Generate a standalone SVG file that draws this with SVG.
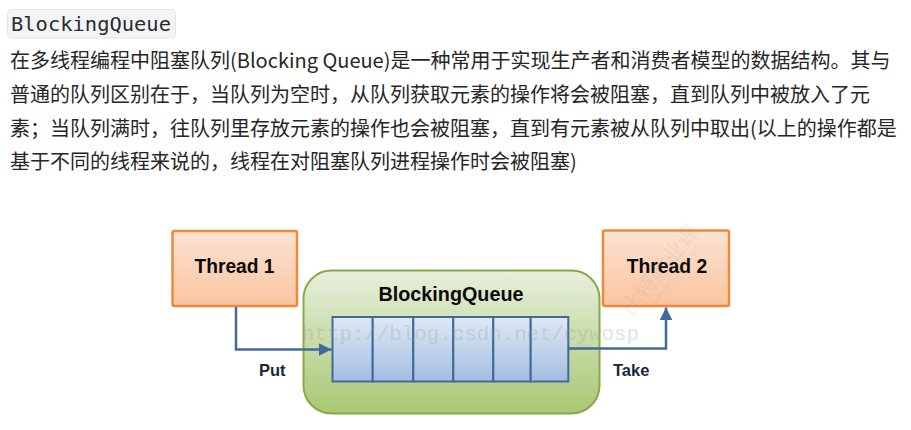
<svg xmlns="http://www.w3.org/2000/svg" width="911" height="430" viewBox="0 0 911 430">
  <style>
    .para { font-family: "Noto Sans CJK SC", "Noto Sans", sans-serif; font-size: 20px; fill: #262626; }
    .code { font-family: "DejaVu Sans Mono", "Liberation Mono", monospace; font-size: 19px; fill: #2b2b2b; }
    .title { font-family: "Liberation Sans", Arial, sans-serif; font-weight: bold; font-size: 19.4px; fill: #0a0a0a; text-anchor: middle; }
    .lbl { font-family: "Liberation Sans", Arial, sans-serif; font-weight: bold; font-size: 16.5px; fill: #1c2540; }
    .thread { fill: url(#gOrange); stroke: #f0883a; stroke-width: 2.5; }
    .cell { fill: url(#gBlue); stroke: #41699c; stroke-width: 2; }
    .conn { fill: none; stroke: #41699c; stroke-width: 2.5; }
    .wm { font-family: "Liberation Mono", monospace; fill: #9a9a9a; opacity: 0.28; }
  </style>
  <defs>
    <linearGradient id="gOrange" x1="0" y1="0" x2="0" y2="1">
      <stop offset="0" stop-color="#fde3d2"/>
      <stop offset="1" stop-color="#f9c49f"/>
    </linearGradient>
    <linearGradient id="gGreen" x1="0" y1="0" x2="0" y2="1">
      <stop offset="0" stop-color="#e7efdc"/>
      <stop offset="1" stop-color="#a8c872"/>
    </linearGradient>
    <linearGradient id="gBlue" x1="0" y1="0" x2="0" y2="1">
      <stop offset="0" stop-color="#dfe9f5"/>
      <stop offset="1" stop-color="#a3bde0"/>
    </linearGradient>
    <marker id="arrow" viewBox="0 0 10 10" refX="10" refY="5" markerWidth="5" markerHeight="5" markerUnits="strokeWidth" orient="auto">
      <path d="M0,0 L10,5 L0,10 z" fill="#41699c"/>
    </marker>
  </defs>
  <rect width="911" height="430" fill="#ffffff"/>

  <!-- code chip -->
  <g id="code-chip">
    <rect x="7.5" y="9.5" width="168" height="28.5" rx="4" fill="#f3f4f6" stroke="#e2e4e8" stroke-width="1"/>
    <text class="code" x="11" y="31" textLength="160" lengthAdjust="spacingAndGlyphs">BlockingQueue</text>
  </g>

  <!-- paragraph -->
  <g id="paragraph">
    <text class="para" x="10" y="68">在多线程编程中阻塞队列(Blocking Queue)是一种常用于实现生产者和消费者模型的数据结构。其与</text>
    <text class="para" x="10" y="102">普通的队列区别在于，当队列为空时，从队列获取元素的操作将会被阻塞，直到队列中被放入了元</text>
    <text class="para" x="10" y="136">素；当队列满时，往队列里存放元素的操作也会被阻塞，直到有元素被从队列中取出(以上的操作都是</text>
    <text class="para" x="10" y="169">基于不同的线程来说的，线程在对阻塞队列进程操作时会被阻塞)</text>
  </g>

  <!-- BlockingQueue container -->
  <g id="blocking-queue">
    <rect x="303.5" y="270.5" width="296" height="143" rx="28" fill="url(#gGreen)" stroke="#86a94b" stroke-width="2"/>
    <text class="title" x="451" y="301" textLength="145" lengthAdjust="spacingAndGlyphs">BlockingQueue</text>
    <g id="queue-cells">
      <rect class="cell" x="332.5" y="317" width="40.2" height="64.5"/>
      <rect class="cell" x="372.7" y="317" width="40.6" height="64.5"/>
      <rect class="cell" x="413.3" y="317" width="40" height="64.5"/>
      <rect class="cell" x="453.3" y="317" width="40" height="64.5"/>
      <rect class="cell" x="493.3" y="317" width="37.4" height="64.5"/>
      <rect class="cell" x="530.7" y="317" width="37.6" height="64.5"/>
    </g>
  </g>

  <!-- threads -->
  <g id="thread-1">
    <rect class="thread" x="172.5" y="231" width="124.5" height="75" rx="2"/>
    <text class="title" x="234.5" y="273.3" textLength="80" lengthAdjust="spacingAndGlyphs">Thread 1</text>
  </g>
  <g id="thread-2">
    <rect class="thread" x="603" y="230.5" width="126" height="75.5" rx="2"/>
    <text class="title" x="667" y="273.3" textLength="80.5" lengthAdjust="spacingAndGlyphs">Thread 2</text>
  </g>

  <!-- connectors -->
  <g id="connectors">
    <path class="conn" d="M236 307 V349.5 H331.5" marker-end="url(#arrow)"/>
    <path class="conn" d="M568.3 348.5 H666 V307.5" marker-end="url(#arrow)"/>
    <text class="lbl" x="259" y="376">Put</text>
    <text class="lbl" x="613" y="376">Take</text>
  </g>

  <!-- watermarks -->
  <g id="watermarks">
    <text class="wm" x="302" y="340" font-size="21" textLength="337" lengthAdjust="spacingAndGlyphs">http://blog.csdn.net/cywosp</text>
    <text x="0" y="0" transform="translate(632,318) rotate(-52)" font-family="Noto Sans CJK SC, sans-serif" font-size="22" fill="#999" opacity="0.12">比特就业课</text>
    <text x="0" y="0" transform="translate(655,306) rotate(-52)" font-family="Liberation Sans, sans-serif" font-size="9" fill="#999" opacity="0.12">www.bitejiuye.com</text>
  </g>
</svg>
